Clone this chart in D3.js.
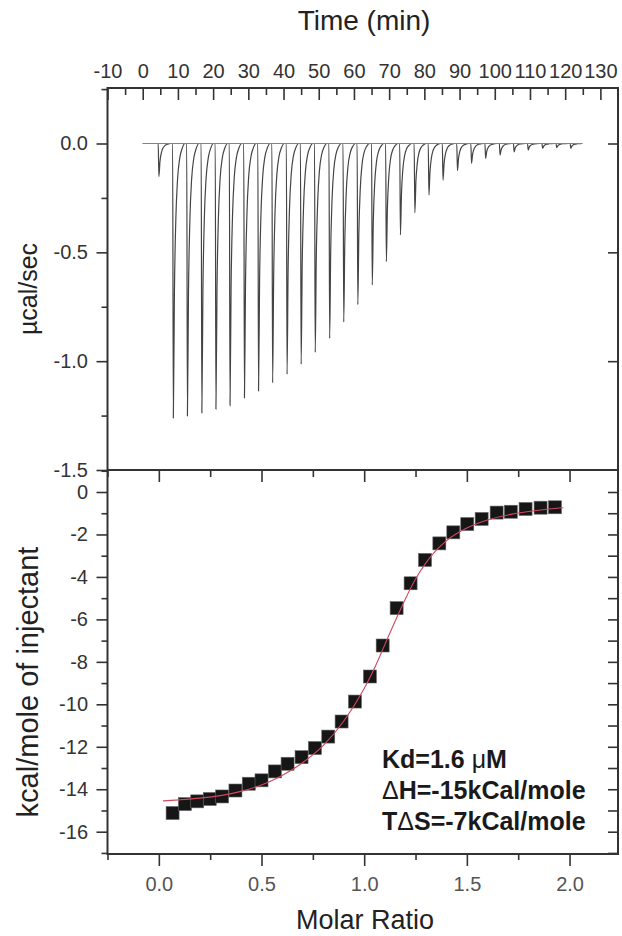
<!DOCTYPE html>
<html>
<head>
<meta charset="utf-8">
<script src="https://cdn.jsdelivr.net/npm/d3@7"></script>
<style>
    body { margin: 0; background: #fff; }
    svg text { font-family: "Liberation Sans", Arial, sans-serif; }
</style>
</head>
<body>
<svg id="itc_graph" width="622" height="936"></svg>
<script>

// Raw thermogram: injection times (min) and the minimum of each peak (µcal/sec)
var injection_times = [4.4, 8.5, 12.5, 16.6, 20.6, 24.6, 28.7, 32.7, 36.7, 40.8,
    44.8, 48.8, 52.9, 56.9, 60.9, 65.0, 69.0, 73.0, 77.1, 81.1,
    85.1, 89.2, 93.2, 97.2, 101.3, 105.3, 109.3, 113.4, 117.4, 121.4]
var injection_peaks = [-0.152, -1.261, -1.252, -1.238, -1.220, -1.204, -1.169, -1.137, -1.100, -1.060,
    -1.015, -0.960, -0.895, -0.820, -0.740, -0.650, -0.543, -0.420, -0.318, -0.237,
    -0.168, -0.125, -0.091, -0.068, -0.053, -0.038, -0.030, -0.022, -0.019, -0.022]
var baseline_time = [0, 124.8]

// shape of one peak: minutes after the injection / part of the peak depth
var peak_shape_t = [0, 0.2, 0.5, 0.9, 1.4, 2.0, 2.7, 3.5]
var peak_shape_f = [0, 1, 0.55, 0.28, 0.13, 0.055, 0.018, 0]

// Integrated heats
var molar_ratio = [0.067, 0.127, 0.187, 0.248, 0.308, 0.373, 0.438, 0.500, 0.565, 0.627,
    0.695, 0.760, 0.825, 0.890, 0.955, 1.028, 1.090, 1.158, 1.226, 1.296,
    1.366, 1.434, 1.502, 1.572, 1.645, 1.714, 1.786, 1.859, 1.929]
var heat = [-15.12, -14.70, -14.57, -14.46, -14.34, -14.06, -13.74, -13.58, -13.16, -12.80,
    -12.49, -12.06, -11.52, -10.81, -9.87, -8.69, -7.23, -5.47, -4.30, -3.20,
    -2.42, -1.90, -1.51, -1.27, -0.97, -0.93, -0.80, -0.74, -0.72]

// Fitted curve
var fit_ratio = [0.02, 0.1, 0.2, 0.3, 0.4, 0.5, 0.6, 0.7, 0.8, 0.9, 1.0, 1.05, 1.1,
    1.15, 1.2, 1.25, 1.3, 1.35, 1.4, 1.5, 1.6, 1.7, 1.8, 1.9, 1.97]
var fit_heat = [-14.55, -14.5, -14.42, -14.3, -14.1, -13.8, -13.35, -12.75, -11.95, -10.8, -9.25, -8.3, -7.2,
    -6.1, -5.05, -4.1, -3.35, -2.75, -2.3, -1.7, -1.32, -1.08, -0.92, -0.8, -0.74]

// Ticks
var time_ticks = [-10, 0, 10, 20, 30, 40, 50, 60, 70, 80, 90, 100, 110, 120, 130]
var time_minor = [-5, 5, 15, 25, 35, 45, 55, 65, 75, 85, 95, 105, 115, 125]
var rate_ticks = [0, -0.5, -1.0, -1.5]
var rate_minor = [0.25, -0.25, -0.75, -1.25]
var heat_ticks = [0, -2, -4, -6, -8, -10, -12, -14, -16]
var heat_minor = [1, -1, -3, -5, -7, -9, -11, -13, -15, -17]
var ratio_ticks = [0, 0.5, 1.0, 1.5, 2.0]
var ratio_minor = [-0.25, 0.25, 0.75, 1.25, 1.75]


var svg = d3.select("#itc_graph")

var left = 107.5, right = 618, top1 = 88, mid = 470, bottom = 854

var xTime = d3.scaleLinear().domain([-10, 135]).range([left, right])
var yRate = d3.scaleLinear().domain([-1.5, 0.255]).range([mid, top1])
var xRatio = d3.scaleLinear().domain([-0.25, 2.236]).range([left, right])
var yHeat = d3.scaleLinear().domain([-17.05, 1.036]).range([bottom, mid])

// plain hyphen for negative numbers, as in the original
var plain = d3.formatLocale({decimal: ".", thousands: ",", grouping: [3], currency: ["", ""], minus: "-"})


// one set of ticks, labels optional
function drawTicks(axis, translate, values, size, padding, format) {
    axis.tickValues(values).tickSize(size).tickSizeOuter(0).tickPadding(padding)
    if (format) axis.tickFormat(format)
    else axis.tickFormat("")

    var g = svg.append("g")
        .attr("transform", translate)
        .call(axis)
    g.select(".domain").remove()
    g.selectAll("line").attr("stroke", "#333").attr("stroke-width", 1.6)
    g.attr("font-size", 20).attr("font-family", null)
    g.selectAll("text").attr("fill", "#333")
    return g
}

// ---- upper panel ----
drawTicks(d3.axisTop(xTime), `translate(0,${top1})`, time_ticks, -12, 10, plain.format("d"))
drawTicks(d3.axisTop(xTime), `translate(0,${top1})`, time_minor, -7, 0)
drawTicks(d3.axisLeft(yRate), `translate(${left},0)`, rate_ticks, 11, 8.5, plain.format(".1f"))
drawTicks(d3.axisLeft(yRate), `translate(${left},0)`, rate_minor, 6, 0)
drawTicks(d3.axisRight(yRate), `translate(${right},0)`, rate_ticks.slice(0, 3), -10, 0)

// ---- lower panel ----
drawTicks(d3.axisTop(xRatio), `translate(0,${mid})`, ratio_ticks, -12, 0)
drawTicks(d3.axisTop(xRatio), `translate(0,${mid})`, ratio_minor, -7, 0)
drawTicks(d3.axisBottom(xRatio), `translate(0,${bottom})`, ratio_ticks, 12, 11, plain.format(".1f"))
    .selectAll("text").attr("fill", "#555")
drawTicks(d3.axisBottom(xRatio), `translate(0,${bottom})`, ratio_minor, 6, 0)
drawTicks(d3.axisLeft(yHeat), `translate(${left},0)`, heat_ticks, 11, 8.5, plain.format("d"))
drawTicks(d3.axisLeft(yHeat), `translate(${left},0)`, heat_minor, 6, 0)
drawTicks(d3.axisRight(yHeat), `translate(${right},0)`, heat_ticks.concat(heat_minor.slice(1)), -10, 0)

// frame
var frame = svg.append("g").attr("stroke", "#333").attr("stroke-width", 2).attr("fill", "none")
frame.append("rect")
    .attr("x", left).attr("y", top1)
    .attr("width", right - left).attr("height", bottom - top1)
frame.append("line")
    .attr("x1", left).attr("x2", right)
    .attr("y1", mid).attr("y2", mid)

// thermogram trace
var trace = [[baseline_time[0], 0]]
injection_times.forEach(function(t, i) {
    peak_shape_t.forEach(function(dt, j) {
        trace.push([t + dt, injection_peaks[i] * peak_shape_f[j]])
    })
})
trace.push([baseline_time[1], 0])

svg.append("path")
    .datum(trace)
    .attr("fill", "none")
    .attr("stroke", "#444")
    .attr("stroke-width", 1.2)
    .attr("d", d3.line()
        .x(function(d) { return xTime(d[0]) })
        .y(function(d) { return yRate(d[1]) })
        .curve(d3.curveMonotoneX))

svg.append("path")
    .datum(baseline_time)
    .attr("fill", "none")
    .attr("stroke", "#e05a5a")
    .attr("stroke-width", 1)
    .attr("d", d3.line()
        .x(function(d) { return xTime(d) })
        .y(function(d) { return yRate(0) }))

// heats
svg.append("g")
    .selectAll("rect")
    .data(molar_ratio)
    .join("rect")
    .attr("x", function(d) { return xRatio(d) - 6.5 })
    .attr("y", function(d, i) { return yHeat(heat[i]) - 6.5 })
    .attr("width", 13)
    .attr("height", 13)
    .attr("fill", "#161616")
    .attr("stroke", "#666")
    .attr("stroke-width", 0.6)

svg.append("path")
    .datum(fit_ratio)
    .attr("fill", "none")
    .attr("stroke", "#cf4a5e")
    .attr("stroke-width", 1.1)
    .attr("d", d3.line()
        .x(function(d) { return xRatio(d) })
        .y(function(d, i) { return yHeat(fit_heat[i]) })
        .curve(d3.curveMonotoneX))

// titles
function loadTitles() {
    svg.append("text")
        .attr("x", 364).attr("y", 30)
        .attr("text-anchor", "middle")
        .attr("font-size", 28).attr("fill", "#222")
        .text("Time (min)")

    svg.append("text")
        .attr("x", 365).attr("y", 929)
        .attr("text-anchor", "middle")
        .attr("font-size", 27).attr("fill", "#222")
        .text("Molar Ratio")

    svg.append("text")
        .attr("transform", "translate(37,289) rotate(-90)")
        .attr("text-anchor", "middle")
        .attr("font-size", 25).attr("fill", "#222")
        .text("µcal/sec")

    svg.append("text")
        .attr("transform", "translate(38,682) rotate(-90)")
        .attr("text-anchor", "middle")
        .attr("font-size", 29).attr("fill", "#222")
        .text("kcal/mole of injectant")

    var note = svg.append("g")
        .attr("font-size", 25).attr("font-weight", "bold").attr("fill", "#1a1a1a")
    var t1 = note.append("text").attr("x", 382).attr("y", 768)
    t1.append("tspan").text("Kd=1.6 ")
    t1.append("tspan").attr("font-weight", "normal").text("μ")
    t1.append("tspan").text("M")
    var t2 = note.append("text").attr("x", 382).attr("y", 799)
    t2.append("tspan").attr("font-weight", "normal").text("Δ")
    t2.append("tspan").text("H=-15kCal/mole")
    var t3 = note.append("text").attr("x", 382).attr("y", 830)
    t3.append("tspan").text("T")
    t3.append("tspan").attr("font-weight", "normal").text("Δ")
    t3.append("tspan").text("S=-7kCal/mole")
}

loadTitles()

</script>
</body>
</html>
